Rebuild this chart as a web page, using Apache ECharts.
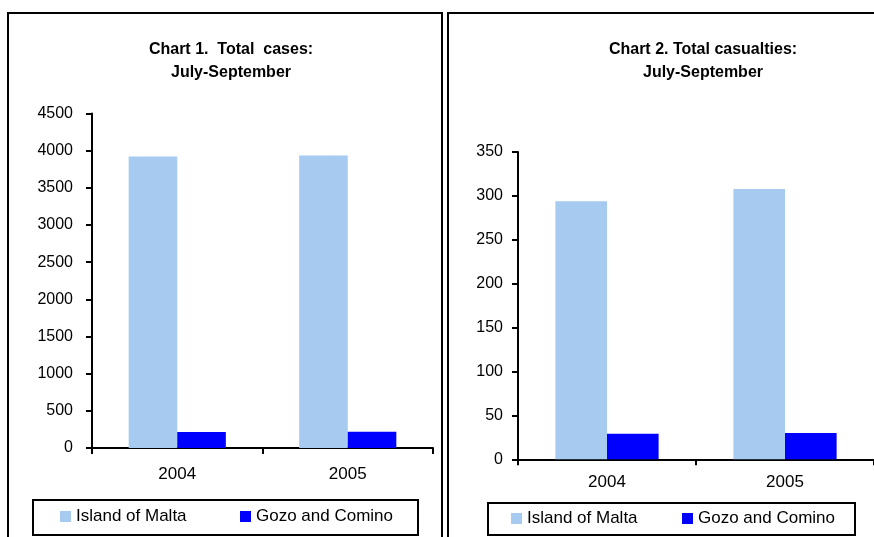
<!DOCTYPE html>
<html>
<head>
<meta charset="utf-8">
<script src="https://cdn.jsdelivr.net/npm/echarts@6/dist/echarts.min.js"></script>
<style>
html,body{margin:0;padding:0;background:#fff;}
#c{width:874px;height:537px;}
</style>
</head>
<body>
<div id="c"></div>
<script>
const years = ['2004', '2005'];
const seriesNames = ['Island of Malta', 'Gozo and Comino'];
const maltaCases = [3920, 3935];
const gozoCases = [215, 217];
const maltaCasualties = [294, 308];
const gozoCasualties = [29, 30];
const casesTicks = { min: 0, max: 4500, interval: 500 };
const casualtyTicks = { min: 0, max: 350, interval: 50 };
const titles = ['Chart 1.  Total  cases:\nJuly-September', 'Chart 2. Total casualties:\nJuly-September'];

const FONT = "'Liberation Sans', Arial, sans-serif";
const LIGHT = '#A6CAF0';
const BLUE = '#0000FF';

const chart = echarts.init(document.getElementById('c'), null, { renderer: 'canvas' });

function yAxis(grid, t, margin, fs) {
  return {
    type: 'value', gridIndex: grid, min: t.min, max: t.max, interval: t.interval,
    axisLine: { show: true, lineStyle: { color: '#000', width: 2 } },
    axisTick: { show: true, length: 6, lineStyle: { color: '#000', width: 2 } },
    axisLabel: { color: '#000', fontSize: fs, fontFamily: FONT, margin: margin,
      formatter: function (v) { return String(v); } },
    splitLine: { show: false }
  };
}
function xAxis(grid, margin, fs) {
  return {
    type: 'category', gridIndex: grid, data: years,
    axisLine: { show: true, lineStyle: { color: '#000', width: 2 } },
    axisTick: { show: true, length: 6, lineStyle: { color: '#000', width: 2 } },
    axisLabel: { color: '#000', fontSize: fs, fontFamily: FONT, margin: margin }
  };
}
function legend(name, left, top) {
  return {
    data: [name], left: left, top: top, padding: 0, itemWidth: 11, itemHeight: 11,
    icon: 'rect', itemGap: 0,
    textStyle: { color: '#000', fontSize: 17, fontFamily: FONT }
  };
}

chart.setOption({
  animation: false,
  backgroundColor: '#fff',
  title: [
    { text: titles[0], left: 226, top: 33, textAlign: 'center',
      textStyle: { fontSize: 16, fontWeight: 'bold', fontFamily: FONT, color: '#000', lineHeight: 23 } },
    { text: titles[1], left: 698, top: 33, textAlign: 'center',
      textStyle: { fontSize: 16, fontWeight: 'bold', fontFamily: FONT, color: '#000', lineHeight: 23 } }
  ],
  grid: [
    { left: 92, top: 113.5, width: 341, height: 334.5, containLabel: false },
    { left: 518, top: 152, width: 357, height: 307.3, containLabel: false }
  ],
  xAxis: [xAxis(0, 18, 17), xAxis(1, 15, 17)],
  yAxis: [yAxis(0, casesTicks, 19, 16), yAxis(1, casualtyTicks, 15, 16)],
  legend: [
    legend(seriesNames[0], 60, 508),
    legend(seriesNames[1], 240, 508),
    legend(seriesNames[0], 511, 510),
    legend(seriesNames[1], 682, 510)
  ],
  series: [
    { name: seriesNames[0], type: 'bar', xAxisIndex: 0, yAxisIndex: 0, data: maltaCases,
      itemStyle: { color: LIGHT }, barGap: '0%', barCategoryGap: '43%' },
    { name: seriesNames[1], type: 'bar', xAxisIndex: 0, yAxisIndex: 0, data: gozoCases,
      itemStyle: { color: BLUE }, barGap: '0%', barCategoryGap: '43%' },
    { name: seriesNames[0], type: 'bar', xAxisIndex: 1, yAxisIndex: 1, data: maltaCasualties,
      itemStyle: { color: LIGHT }, barGap: '0%', barCategoryGap: '42%' },
    { name: seriesNames[1], type: 'bar', xAxisIndex: 1, yAxisIndex: 1, data: gozoCasualties,
      itemStyle: { color: BLUE }, barGap: '0%', barCategoryGap: '42%' }
  ],
  graphic: [
    { type: 'rect', shape: { x: 8, y: 13, width: 434, height: 540 }, style: { fill: null, stroke: '#000', lineWidth: 2 }, z: 10, silent: true },
    { type: 'rect', shape: { x: 448, y: 13, width: 450, height: 540 }, style: { fill: null, stroke: '#000', lineWidth: 2 }, z: 10, silent: true },
    { type: 'rect', shape: { x: 33, y: 500, width: 385, height: 35 }, style: { fill: null, stroke: '#000', lineWidth: 2 }, z: 10, silent: true },
    { type: 'rect', shape: { x: 488, y: 503, width: 367, height: 32 }, style: { fill: null, stroke: '#000', lineWidth: 2 }, z: 10, silent: true }
  ]
});
</script>
</body>
</html>
